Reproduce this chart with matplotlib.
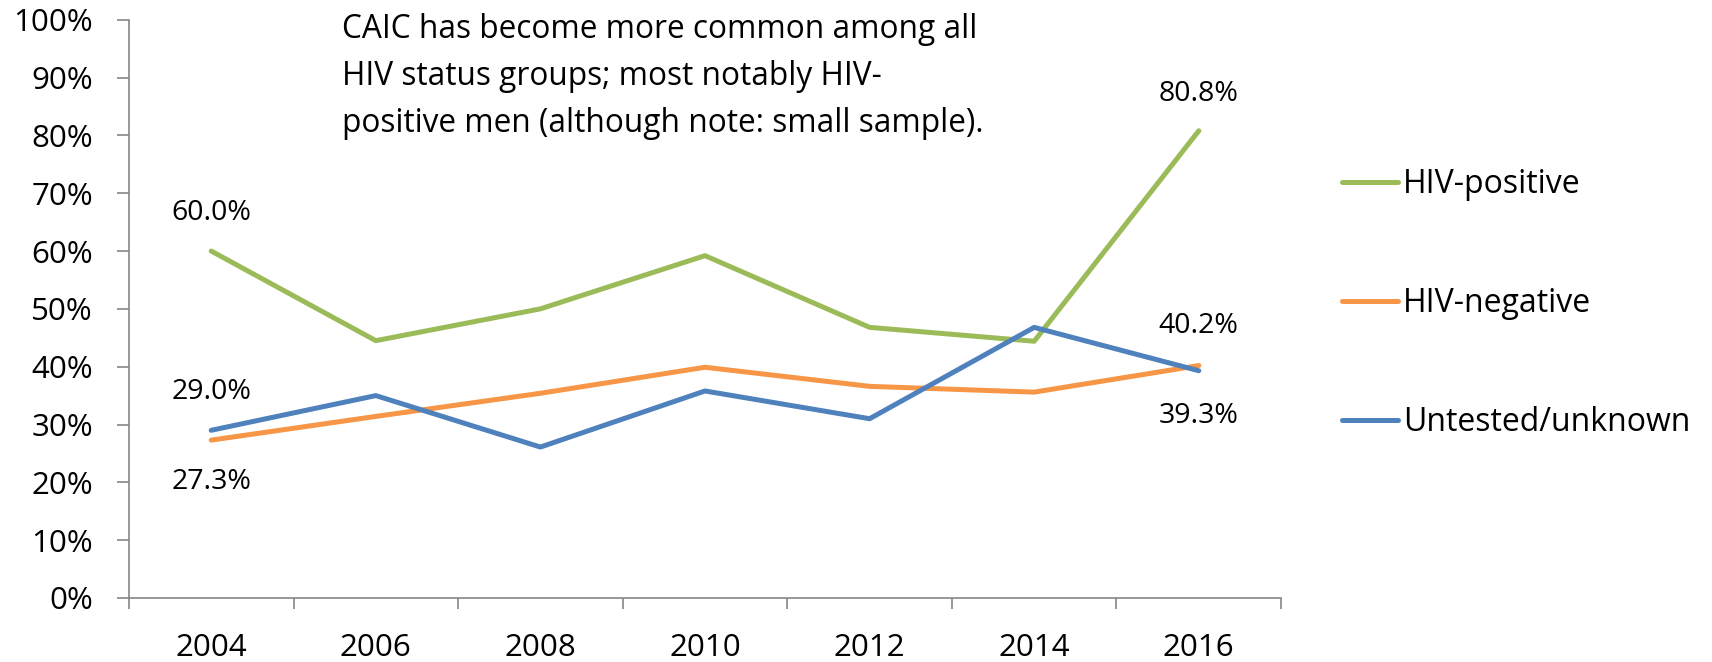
"""CAIC trends by HIV status, 2004-2016, as a simple line chart."""
import matplotlib

matplotlib.use("Agg")
import matplotlib.pyplot as plt

years = ["2004", "2006", "2008", "2010", "2012", "2014", "2016"]
hiv_positive = [60.0, 44.5, 50.0, 59.2, 46.8, 44.4, 80.8]
hiv_negative = [27.3, 31.4, 35.4, 39.9, 36.6, 35.6, 40.2]
untested = [29.0, 35.0, 26.1, 35.8, 31.0, 46.8, 39.3]
series_names = ["HIV-positive", "HIV-negative", "Untested/unknown"]
y_ticks = [0, 10, 20, 30, 40, 50, 60, 70, 80, 90, 100]
note = ("CAIC has become more common among all\n"
        "HIV status groups; most notably HIV-\n"
        "positive men (although note: small sample).")

_GREEN = "#9BBB59"
_ORANGE = "#F79646"
_BLUE = "#4F81BD"
_AXIS = "#868686"

plt.rcParams["font.family"] = ["Open Sans", "DejaVu Sans"]

fig = plt.figure(figsize=(17.12, 6.62), dpi=100)
ax = fig.add_axes([0.0753, 0.0967, 0.673, 0.8735])

x = list(range(len(years)))
lines = []
for vals, color, name in zip(
    [hiv_positive, hiv_negative, untested], [_GREEN, _ORANGE, _BLUE], series_names
):
    (ln,) = ax.plot(x, vals, color=color, lw=3.6, label=name, solid_capstyle="round")
    lines.append(ln)

ax.set_xlim(-0.5, len(years) - 0.5)
ax.set_ylim(0, 100)
ax.set_yticks(y_ticks)
ax.set_yticklabels([f"{v}%" for v in y_ticks])
ax.set_xticks(x)
ax.set_xticklabels(years)
ax.set_xticks([i - 0.5 for i in range(len(years) + 1)], minor=True)

ax.tick_params(axis="y", labelsize=22.5, length=9, width=1.2, color=_AXIS, pad=17)
ax.tick_params(axis="x", which="major", labelsize=22.5, length=0, pad=25)
ax.tick_params(axis="x", which="minor", length=8, width=1.2, color=_AXIS, direction="out")

for side in ("top", "right"):
    ax.spines[side].set_visible(False)
for side in ("left", "bottom"):
    ax.spines[side].set_color(_AXIS)
    ax.spines[side].set_linewidth(1.2)

# Data labels at the first and last points
lbl = dict(ha="center", va="center", fontsize=20.5)
ax.text(0, 66.5, f"{hiv_positive[0]:.1f}%", **lbl)
ax.text(0, 35.7, f"{untested[0]:.1f}%", **lbl)
ax.text(0, 20.0, f"{hiv_negative[0]:.1f}%", **lbl)
ax.text(6, 87.2, f"{hiv_positive[-1]:.1f}%", **lbl)
ax.text(6, 47.0, f"{hiv_negative[-1]:.1f}%", **lbl)
ax.text(6, 31.4, f"{untested[-1]:.1f}%", **lbl)

fig.text(0.1997, 0.980, note, ha="left", va="top", fontsize=22.8, linespacing=1.55)

fig.legend(
    handles=lines, loc="upper left", bbox_to_anchor=(0.7765, 0.7656),
    frameon=False, fontsize=23, handlelength=1.75, handletextpad=0.15,
    labelspacing=2.7, borderaxespad=0,
)

fig.savefig("out.png", dpi=100, facecolor="white")
plt.close(fig)
